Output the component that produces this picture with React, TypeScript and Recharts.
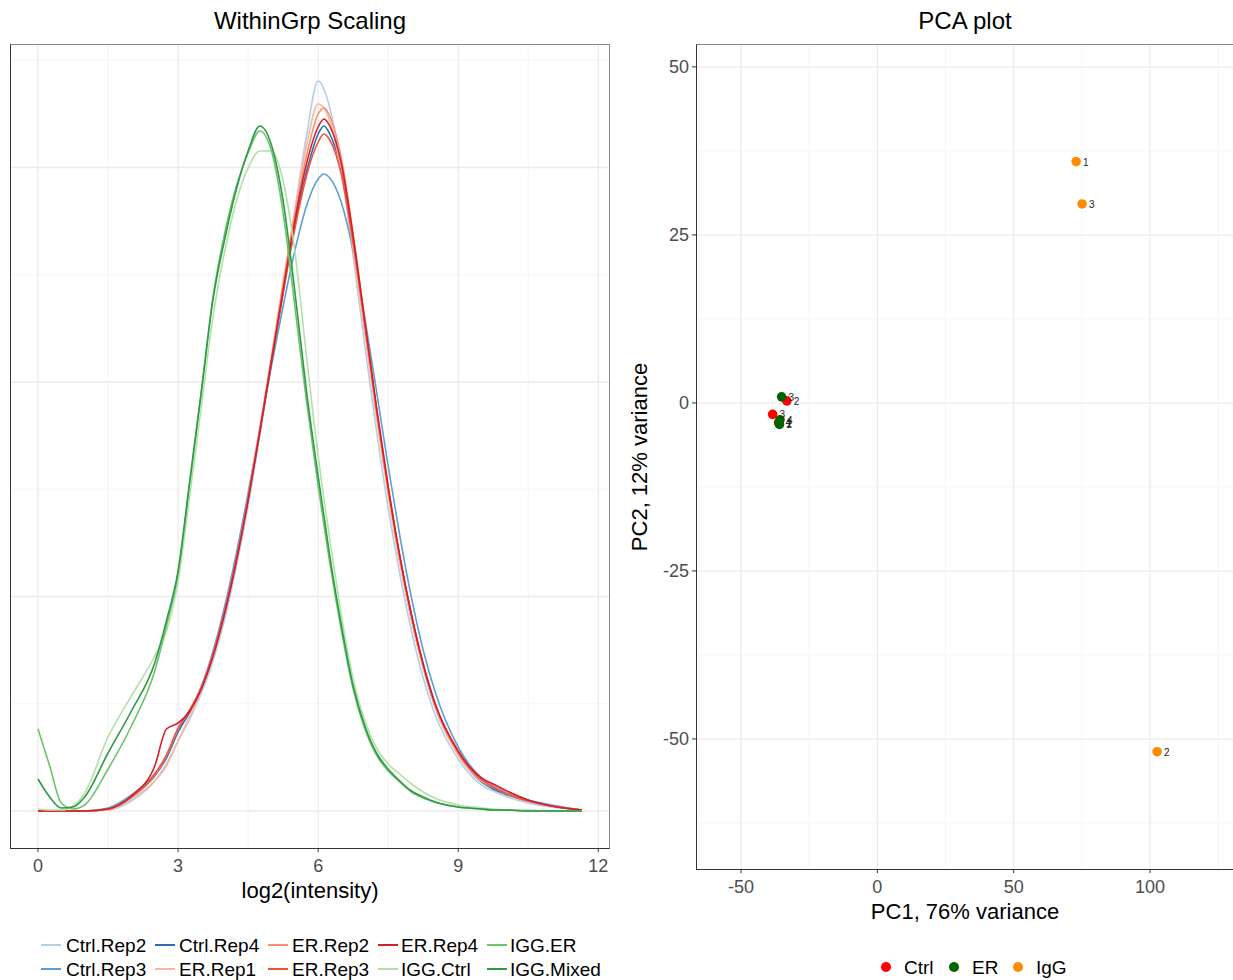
import React from "react";
import {
  CartesianGrid,
  Line,
  LineChart,
  Scatter,
  ScatterChart,
  XAxis,
  YAxis,
} from "recharts";

// ---- density panel (y in relative density units) ----
const intensity = [0, 0.25, 0.5, 0.75, 1, 1.5, 2, 2.5, 2.75, 3, 3.25, 3.5, 3.75, 4, 4.25, 4.5, 4.75, 5, 5.25, 5.5, 5.75, 6, 6.125, 6.25, 6.5, 6.75, 7, 7.25, 7.5, 7.75, 8, 8.25, 8.5, 9, 9.5, 9.75, 10, 10.5, 11, 11.65];

const ctrlRep2 = [0, 0, 0, 0, 0, 1, 10, 30, 47, 70, 92, 118, 150, 192, 245, 305, 375, 448, 525, 600, 675, 730, 722, 703, 640, 555, 465, 380, 303, 237, 180, 133, 97, 52, 26, 20, 15, 8, 4, 1];
const ctrlRep3 = [0, 0, 0, 0, 0, 3, 16, 37, 54, 80, 100, 125, 160, 205, 258, 318, 382, 445, 505, 560, 605, 632, 637, 633, 608, 560, 493, 420, 345, 275, 213, 161, 120, 64, 33, 25, 19, 11, 6, 1];
const ctrlRep4 = [0, 0, 0, 0, 0, 2, 14, 35, 53, 79, 99, 123, 156, 199, 251, 311, 379, 449, 519, 586, 639, 677, 685, 677, 640, 568, 483, 398, 320, 251, 192, 144, 105, 57, 29, 22, 17, 10, 5, 1];
const erRep1 = [0, 0, 0, 0, 0, 1, 12, 30, 45, 70, 95, 122, 156, 199, 251, 313, 383, 455, 530, 600, 665, 707, 703, 690, 638, 562, 478, 393, 316, 248, 191, 143, 105, 56, 30, 24, 18, 10, 5, 1];
const erRep2 = [0, 0, 0, 0, 0, 2, 14, 36, 55, 82, 101, 124, 157, 200, 252, 312, 380, 452, 525, 595, 655, 697, 703, 695, 652, 577, 490, 403, 324, 254, 195, 146, 107, 58, 31, 24, 18, 10, 5, 1];
const erRep3 = [0, 0, 0, 0, 0, 2, 14, 37, 56, 83, 101, 124, 157, 200, 252, 312, 380, 450, 518, 582, 635, 669, 677, 671, 636, 568, 486, 401, 322, 254, 196, 147, 108, 59, 31, 24, 18, 10, 5, 1];
const erRep4 = [0, 0, 0, 0, 0, 2, 15, 45, 82, 88, 100, 122, 155, 198, 250, 311, 379, 450, 521, 590, 647, 684, 692, 685, 647, 575, 490, 404, 325, 255, 196, 147, 108, 60, 33, 27, 21, 11, 5, 1];
const iggCtrl = [2, 1, 1, 5, 18, 74, 115, 155, 180, 230, 315, 405, 495, 560, 610, 643, 660, 660, 630, 560, 455, 355, 312, 272, 195, 132, 90, 63, 47, 37, 27, 19, 13, 6, 3, 2, 1, 1, 0, 0];
const iggER = [82, 45, 8, 2, 6, 42, 85, 140, 185, 238, 328, 420, 515, 578, 625, 658, 680, 660, 598, 505, 410, 325, 286, 248, 180, 122, 82, 56, 40, 29, 19, 13, 9, 4, 2, 1, 1, 0, 0, 0];
const iggMixed = [32, 14, 3, 4, 14, 58, 100, 148, 190, 240, 330, 420, 512, 572, 622, 660, 685, 666, 610, 520, 420, 335, 295, 255, 185, 125, 85, 58, 42, 30, 20, 14, 9, 4, 2, 1, 1, 0, 0, 0];

const sampleNames = ["Ctrl.Rep2", "Ctrl.Rep3", "Ctrl.Rep4", "ER.Rep1", "ER.Rep2", "ER.Rep3", "ER.Rep4", "IGG.Ctrl", "IGG.ER", "IGG.Mixed"];
const sampleValues = [ctrlRep2, ctrlRep3, ctrlRep4, erRep1, erRep2, erRep3, erRep4, iggCtrl, iggER, iggMixed];
const sampleColors = ["#b0d0e8", "#5b9fd6", "#2a6db3", "#fcb59c", "#fb8e70", "#f2523d", "#d3202a", "#b3e0a6", "#6dc46a", "#2c9a48"];

const densityTicks = [0, 3, 6, 9, 12];
const densityMinorX = [1.5, 4.5, 7.5, 10.5];
const densityMajorY = [0, 214.5, 429, 643.5];
const densityMinorY = [107.25, 321.75, 536.25, 750.75];

// ---- PCA panel ----
const pcaGroups = ["Ctrl", "ER", "IgG"];
const pcaColors = ["#ff0000", "#006400", "#ff8c00"];
const ctrlPoints = [
  { pc1: -33.2, pc2: 0.3, rep: "2" },
  { pc1: -38.4, pc2: -1.7, rep: "3" },
  { pc1: -36.2, pc2: -2.9, rep: "4" },
];
const erPoints = [
  { pc1: -36.0, pc2: -3.0, rep: "1" },
  { pc1: -35.9, pc2: -3.2, rep: "2" },
  { pc1: -35.1, pc2: 0.9, rep: "3" },
  { pc1: -35.7, pc2: -2.5, rep: "4" },
];
const iggPoints = [
  { pc1: 72.9, pc2: 35.9, rep: "1" },
  { pc1: 102.6, pc2: -51.9, rep: "2" },
  { pc1: 75.1, pc2: 29.6, rep: "3" },
];
const pcaXTicks = [-50, 0, 50, 100];
const pcaYTicks = [-50, -25, 0, 25, 50];
const pcaMinorX = [-25, 25, 75, 125];
const pcaMinorY = [-62.5, -37.5, -12.5, 12.5, 37.5];

const FONT = '"Liberation Sans", Arial, Helvetica, sans-serif';
const TICK = { fontSize: 18, fill: "#4d4d4d", fontFamily: FONT };

const densityRows = intensity.map((x, i) => {
  const row: Record<string, number> = { x };
  sampleNames.forEach((n, k) => (row[n] = sampleValues[k][i]));
  return row;
});

function Label({ x, y, size, rotate, children }: any) {
  return (
    <div
      style={{
        position: "absolute",
        left: x,
        top: y,
        transform: `translate(-50%, -50%)${rotate ? ` rotate(${rotate}deg)` : ""}`,
        fontSize: size,
        lineHeight: 1,
        whiteSpace: "nowrap",
        color: "#000",
      }}
    >
      {children}
    </div>
  );
}

function PanelBorder({ left, top, width, height }: any) {
  return (
    <div
      style={{
        position: "absolute",
        left,
        top,
        width,
        height,
        boxSizing: "border-box",
        borderTop: "1px solid #8a8a8a",
        borderRight: "1px solid #8a8a8a",
        borderLeft: "1px solid #333",
        borderBottom: "1px solid #333",
        pointerEvents: "none",
      }}
    />
  );
}

const legendCols = [
  { key: 41, text: 66 },
  { key: 155, text: 179 },
  { key: 268, text: 292 },
  { key: 378, text: 401 },
  { key: 487, text: 510 },
];

export default function App() {
  return (
    <div
      style={{
        position: "fixed",
        left: 0,
        top: 0,
        width: 1233,
        height: 980,
        overflow: "hidden",
        background: "#fff",
        fontFamily: FONT,
      }}
    >
      <div style={{ position: "absolute", left: 0, top: 0 }}>
        <LineChart
          width={620}
          height={900}
          data={densityRows}
          margin={{ top: 44, right: 11, bottom: 22, left: 10 }}
        >
          <CartesianGrid
            horizontalValues={densityMinorY}
            verticalValues={densityMinorX}
            stroke="#f0f0f0"
            strokeWidth={0.7}
          />
          <CartesianGrid
            horizontalValues={densityMajorY}
            verticalValues={densityTicks}
            stroke="#ebebeb"
            strokeWidth={1.3}
          />
          <XAxis
            type="number"
            dataKey="x"
            domain={[-0.6, 12.23]}
            ticks={densityTicks}
            allowDataOverflow
            height={30}
            tick={TICK}
            tickSize={4}
            tickMargin={7}
            tickLine={{ stroke: "#333" }}
            axisLine={false}
          />
          <YAxis hide type="number" domain={[-37, 767]} allowDataOverflow />
          {sampleNames.map((n, k) => (
            <Line
              key={n}
              dataKey={n}
              type="monotone"
              stroke={sampleColors[k]}
              strokeWidth={1.6}
              dot={false}
              isAnimationActive={false}
            />
          ))}
        </LineChart>
      </div>
      <PanelBorder left={10} top={44} width={600} height={805} />

      <div style={{ position: "absolute", left: 620, top: 0 }}>
        <ScatterChart
          width={620}
          height={940}
          margin={{ top: 44, right: 6, bottom: 41, left: 20 }}
        >
          <CartesianGrid
            horizontalValues={pcaMinorY}
            verticalValues={pcaMinorX}
            stroke="#f0f0f0"
            strokeWidth={0.7}
          />
          <CartesianGrid
            horizontalValues={pcaYTicks}
            verticalValues={pcaXTicks}
            stroke="#ebebeb"
            strokeWidth={1.3}
          />
          <XAxis
            type="number"
            dataKey="pc1"
            domain={[-66.5, 130.8]}
            ticks={pcaXTicks}
            allowDataOverflow
            height={30}
            tick={TICK}
            tickSize={4}
            tickMargin={7}
            tickLine={{ stroke: "#333" }}
            axisLine={false}
          />
          <YAxis
            type="number"
            dataKey="pc2"
            domain={[-69.35, 53.4]}
            ticks={pcaYTicks}
            allowDataOverflow
            width={56}
            tick={TICK}
            tickSize={4}
            tickMargin={3}
            tickLine={{ stroke: "#333" }}
            axisLine={false}
          />
          {[ctrlPoints, erPoints, iggPoints].map((pts, g) => (
            <Scatter
              key={pcaGroups[g]}
              data={pts}
              fill={pcaColors[g]}
              isAnimationActive={false}
              shape={(p: any) => <circle cx={p.cx} cy={p.cy} r={4.8} style={{ fill: pcaColors[g] }} />}
            />
          ))}
          {[ctrlPoints, erPoints, iggPoints].map((pts, g) => (
            <Scatter
              key={pcaGroups[g] + "-lab"}
              data={pts}
              fill="#222"
              isAnimationActive={false}
              shape={(p: any) => (
                <text
                  x={p.cx + 7}
                  y={p.cy + 4}
                  fontSize={10}
                  fontFamily={FONT}
                  style={{ fill: "#222", stroke: "none" }}
                >
                  {p.payload.rep}
                </text>
              )}
            />
          ))}
        </ScatterChart>
      </div>
      <PanelBorder left={696} top={44} width={560} height={826} />

      <Label x={310} y={21} size={24}>WithinGrp Scaling</Label>
      <Label x={310} y={891} size={22}>log2(intensity)</Label>
      <Label x={965} y={21} size={24}>PCA plot</Label>
      <Label x={965} y={912} size={22}>PC1, 76% variance</Label>
      <Label x={640} y={457} size={22} rotate={-90}>PC2, 12% variance</Label>

      {sampleNames.map((n, k) => {
        const col = legendCols[Math.floor(k / 2)];
        const y = k % 2 === 0 ? 945 : 969;
        return (
          <React.Fragment key={n}>
            <div
              style={{
                position: "absolute",
                left: col.key,
                top: y - 1,
                width: 20,
                height: 2,
                background: sampleColors[k],
              }}
            />
            <div
              style={{
                position: "absolute",
                left: col.text,
                top: y,
                transform: "translateY(-50%)",
                fontSize: 19,
                lineHeight: 1,
                whiteSpace: "nowrap",
              }}
            >
              {n}
            </div>
          </React.Fragment>
        );
      })}

      {pcaGroups.map((g, k) => {
        const px = [886, 954, 1018][k];
        return (
          <React.Fragment key={g}>
            <div
              style={{
                position: "absolute",
                left: px - 5,
                top: 962,
                width: 10,
                height: 10,
                borderRadius: 5,
                background: pcaColors[k],
              }}
            />
            <div
              style={{
                position: "absolute",
                left: px + 18,
                top: 967,
                transform: "translateY(-50%)",
                fontSize: 19,
                lineHeight: 1,
                whiteSpace: "nowrap",
              }}
            >
              {g}
            </div>
          </React.Fragment>
        );
      })}
    </div>
  );
}
